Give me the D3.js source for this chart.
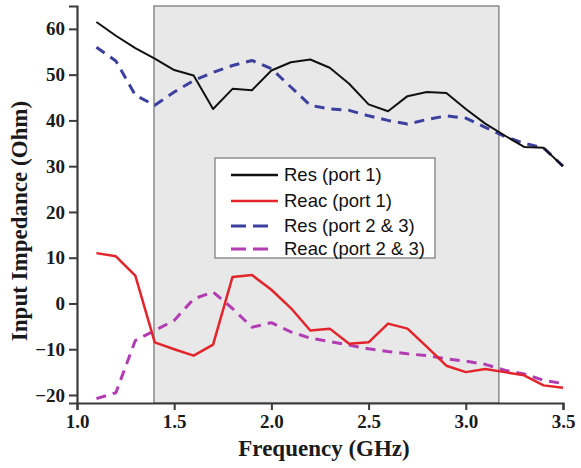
<!DOCTYPE html>
<html>
<head>
<meta charset="utf-8">
<script src="https://cdn.jsdelivr.net/npm/d3@7"></script>
<style>
  html, body { margin: 0; padding: 0; background: #fff; }
  svg { display: block; }
</style>
</head>
<body>
<svg id="chart" width="581" height="468"></svg>
<script>
// Frequency sweep (GHz)
const freq = [1.1, 1.2, 1.3, 1.4, 1.5, 1.6, 1.7, 1.8, 1.9, 2.0, 2.1, 2.2, 2.3,
              2.4, 2.5, 2.6, 2.7, 2.8, 2.9, 3.0, 3.1, 3.2, 3.3, 3.4, 3.5];

// Input resistance / reactance (Ohm)
const resPort1 = [61.5, 58.5, 55.8, 53.5, 51.0, 49.8, 42.5, 46.9, 46.6, 50.9, 52.7, 53.3, 51.5,
                  48.0, 43.5, 42.0, 45.3, 46.2, 46.0, 42.5, 39.3, 36.7, 34.2, 34.0, 30.0];
const reacPort1 = [11.0, 10.3, 6.1, -8.5, -10.0, -11.4, -9.0, 5.8, 6.2, 3.0, -1.0, -5.9, -5.5,
                   -8.8, -8.5, -4.4, -5.5, -9.5, -13.6, -15.0, -14.3, -15.0, -15.7, -17.9, -18.4];
const resPort23 = [56.0, 53.0, 45.5, 43.3, 46.2, 48.7, 50.5, 52.0, 53.1, 51.3, 47.3, 43.3, 42.5,
                   42.2, 41.0, 40.0, 39.2, 40.2, 41.0, 40.5, 38.5, 36.5, 35.0, 34.0, 30.0];
const reacPort23 = [-20.8, -19.5, -8.1, -5.9, -3.7, 1.0, 2.5, -1.1, -5.2, -4.2, -6.2, -7.6, -8.3,
                    -9.1, -9.9, -10.5, -11.0, -11.4, -12.1, -12.6, -13.3, -14.6, -15.4, -16.8, -17.5];

// Shaded operating band (GHz)
const band = [1.396, 3.17];

const xTicks = [1.0, 1.5, 2.0, 2.5, 3.0, 3.5];
const yTicks = [-20, -10, 0, 10, 20, 30, 40, 50, 60];

const seriesNames = ["Res (port 1)", "Reac (port 1)", "Res (port 2 & 3)", "Reac (port 2 & 3)"];
const seriesValues = [resPort1, reacPort1, resPort23, reacPort23];
const seriesColors = ["#111111", "#e3242b", "#3b3f9e", "#b23db3"];
const seriesDash = [null, null, "10,7", "10,7"];
const seriesWidth = [2, 2.5, 3, 3];

const svg = d3.select("#chart");

const x = d3.scaleLinear().domain([1.0, 3.5]).range([77, 563]);
const y = d3.scaleLinear().domain([-21.75, 65]).range([403, 6]);

// shaded band
svg.append("rect")
  .attr("x", x(band[0]))
  .attr("y", y(65))
  .attr("width", x(band[1]) - x(band[0]))
  .attr("height", y(-21.75) - y(65))
  .attr("fill", "#e8e8e8")
  .attr("stroke", "#8a8a8a")
  .attr("stroke-width", 1.5);

// axes
const tickFont = "'Liberation Serif', 'Times New Roman', serif";

const xAxis = svg.append("g")
  .attr("transform", `translate(0,${y(-21.75)})`)
  .call(d3.axisBottom(x).tickValues(xTicks).tickFormat(d3.format(".1f")).tickSizeOuter(0).tickSize(7).tickPadding(5));
const yAxis = svg.append("g")
  .attr("transform", `translate(${x(1.0)},0)`)
  .call(d3.axisLeft(y).tickValues(yTicks).tickFormat(d3.format("d")).tickSizeOuter(0).tickSize(8).tickPadding(4));

[xAxis, yAxis].forEach(g => {
  g.select(".domain").attr("stroke", "#3a3a3a").attr("stroke-width", 2.2);
  g.selectAll(".tick line").attr("stroke", "#3a3a3a").attr("stroke-width", 2);
  g.selectAll(".tick text")
    .attr("fill", "#1a1a1a")
    .style("font-family", tickFont)
    .style("font-weight", "bold")
    .style("font-size", "19px");
});

// series lines
const line = d3.line().x((d, i) => x(freq[i])).y(d => y(d));

// draw order: dashed underneath, solid on top
[2, 3, 0, 1].forEach(k => {
  svg.append("path")
    .datum(seriesValues[k])
    .attr("d", line)
    .attr("fill", "none")
    .attr("stroke", seriesColors[k])
    .attr("stroke-width", seriesWidth[k])
    .attr("stroke-dasharray", seriesDash[k])
    .attr("stroke-linejoin", "round");
});

// axis titles
svg.append("text")
  .attr("x", 324)
  .attr("y", 456)
  .attr("text-anchor", "middle")
  .style("font-family", tickFont)
  .style("font-weight", "bold")
  .style("font-size", "23px")
  .attr("fill", "#1a1a1a")
  .text("Frequency (GHz)");

svg.append("text")
  .attr("transform", "translate(27,221) rotate(-90)")
  .attr("text-anchor", "middle")
  .style("font-family", tickFont)
  .style("font-weight", "bold")
  .style("font-size", "23px")
  .attr("fill", "#1a1a1a")
  .text("Input Impedance (Ohm)");

// legend
const legend = svg.append("g");
legend.append("rect")
  .attr("x", 215).attr("y", 158)
  .attr("width", 220).attr("height", 100)
  .attr("fill", "#ffffff")
  .attr("stroke", "#777777")
  .attr("stroke-width", 1.2);

const rowY = [175, 201, 226, 249];
seriesNames.forEach((name, k) => {
  legend.append("line")
    .attr("x1", 231).attr("x2", 278)
    .attr("y1", rowY[k]).attr("y2", rowY[k])
    .attr("stroke", seriesColors[k])
    .attr("stroke-width", k < 2 ? 2.5 : 3)
    .attr("stroke-dasharray", k < 2 ? null : "15,7,15,100");
  legend.append("text")
    .attr("x", 284)
    .attr("y", rowY[k])
    .attr("dy", "0.35em")
    .style("font-family", "'Liberation Sans', Arial, sans-serif")
    .style("font-size", "18.5px")
    .attr("fill", "#111")
    .text(name);
});
</script>
</body>
</html>
